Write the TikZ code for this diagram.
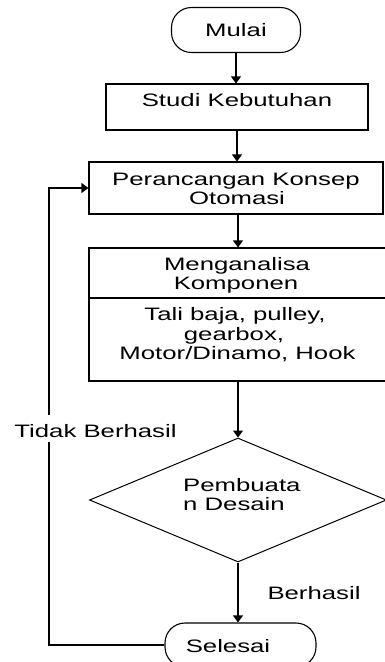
\documentclass[tikz,border=0pt]{standalone}
\usepackage{fontspec}
\setmainfont{Liberation Sans}[FakeStretch=1.43]
\usetikzlibrary{arrows.meta,shapes.geometric}
\begin{document}
\begin{tikzpicture}[x=1pt,y=-1pt,
  every node/.style={font=\fontsize{18}{20}\selectfont},
  box/.style={draw, line width=1.1pt, inner sep=0pt},
  term/.style={draw, line width=1.1pt, rounded corners=20pt, inner sep=0pt},
  arr/.style={line width=1.1pt, -{Triangle[length=7pt,width=10pt]}},
  txt/.style={inner sep=0pt, anchor=base},
  ltxt/.style={inner sep=0pt, anchor=base west}]
\useasboundingbox (0,0) rectangle (385,662);
% shapes
\node[term, minimum width=129pt, minimum height=45pt] (mulai) at (236,30) {};
\node[txt] (mulait) at (236,36) {Mulai};
\node[box, minimum width=262pt, minimum height=46pt] (studi) at (237,107) {};
\node[txt] (studit) at (237,106) {Studi Kebutuhan};
\node[box, minimum width=294pt, minimum height=52pt] (per) at (236,188) {};
\node[txt] (per1) at (236,185.5) {Perancangan Konsep};
\node[txt] (per2) at (237,204.5) {Otomasi};
\node[box, minimum width=304pt, minimum height=133pt] (komp) at (241,314.5) {};
\draw[line width=1.1pt] (komp.west |- 0,298) -- (komp.east |- 0,298);
\node[txt] (komp1) at (237,270) {Menganalisa};
\node[txt] (komp2) at (236,289) {Komponen};
\node[txt] (komp3) at (235,320) {Tali baja, pulley,};
\node[txt] (komp4) at (234,340) {gearbox,};
\node[txt] (komp5) at (237.5,359.5) {Motor/Dinamo, Hook};
\node[draw, diamond, line width=1pt, minimum width=297pt, minimum height=124pt, inner sep=0pt] (dia) at (238,500) {};
\node[ltxt] (dia1) at (183,491) {Pembuata};
\node[ltxt] (dia2) at (183,510) {n Desain};
\node[term, minimum width=151pt, minimum height=44pt] (sel) at (240.5,645) {};
\node[txt] (selt) at (228,652) {Selesai};
\node[txt] (ber) at (314,599.5) {Berhasil};
\node[txt] (tidak) at (95.5,437) {Tidak Berhasil};
% connectors
\draw[arr] (mulai.south) -- (mulai.south |- studi.north);
\draw[arr] (studi.south) -- (studi.south |- per.north);
\draw[arr] (per.south -| dia.north) -- (dia.north |- komp.north);
\draw[arr] (komp.south -| dia.north) -- (dia.north);
\draw[arr] (dia.south) -- (dia.south |- sel.north);
\coordinate (g1) at (49,415);
\coordinate (g2) at (49,442);
\draw[line width=1.1pt] (sel.west) -| (g2);
\draw[arr] (g1) |- (per.west);
\end{tikzpicture}
\end{document}
